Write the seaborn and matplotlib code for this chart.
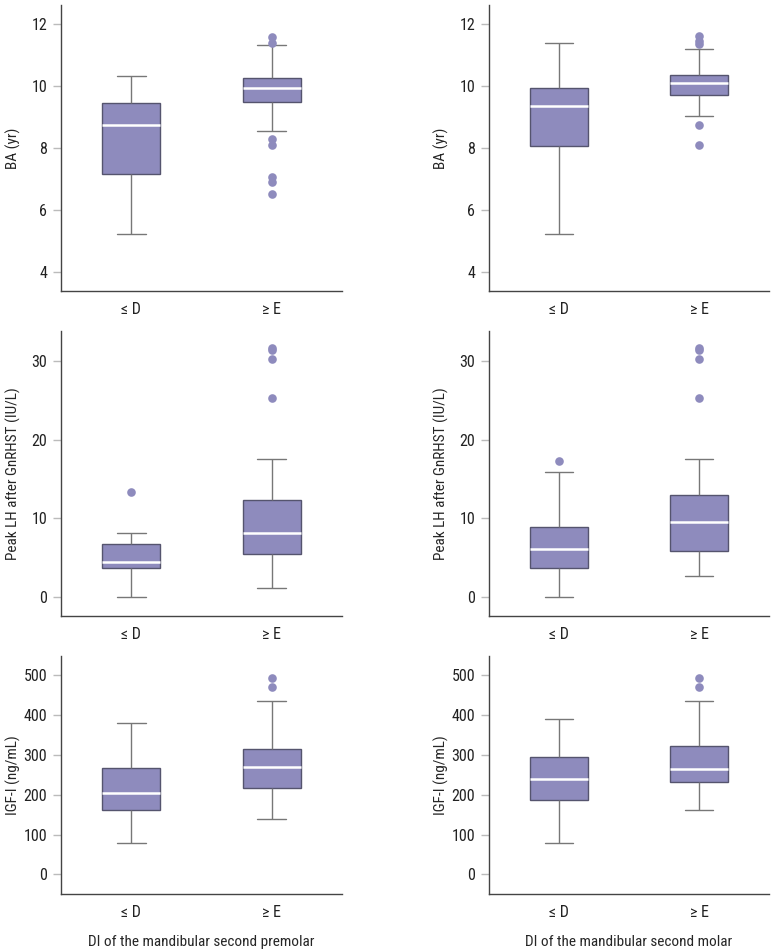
import pandas as pd
import matplotlib
matplotlib.use("Agg")
import matplotlib.pyplot as plt
import seaborn as sns

# Group labels on the x axis
groups = ["≤ D", "≥ E"]

# Box summaries: [lower whisker, Q1, median, Q3, upper whisker]
ba_premolar_d = [5.22, 7.16, 8.72, 9.43, 10.32]
ba_premolar_e = [8.55, 9.48, 9.91, 10.25, 11.32]
ba_premolar_out = [11.57, 11.36, 8.29, 8.08, 7.05, 6.89, 6.52]

ba_molar_d = [5.22, 8.04, 9.34, 9.94, 11.39]
ba_molar_e = [9.03, 9.71, 10.07, 10.34, 11.19]
ba_molar_out = [11.60, 11.44, 11.34, 8.72, 8.10]

lh_premolar_d = [0.04, 3.69, 4.45, 6.74, 8.14]
lh_premolar_d_out = [13.4]
lh_premolar_e = [1.14, 5.47, 8.14, 12.33, 17.6]
lh_premolar_e_out = [31.7, 31.36, 30.25, 25.3]

lh_molar_d = [0.0, 3.73, 6.14, 8.86, 15.9]
lh_molar_d_out = [17.25]
lh_molar_e = [2.71, 5.89, 9.58, 12.97, 17.58]
lh_molar_e_out = [31.7, 31.36, 30.25, 25.3]

igf_premolar_d = [77.8, 162.2, 204.8, 265.9, 381.0]
igf_premolar_e = [139.6, 215.7, 269.2, 313.5, 434.0]
igf_premolar_out = [491.6, 469.0]

igf_molar_d = [77.8, 185.6, 240.0, 293.5, 390.5]
igf_molar_e = [162.2, 232.4, 263.4, 321.0, 434.0]
igf_molar_out = [491.6, 469.0]

# Axis labels / ticks per row
row_ylabels = ["BA (yr)", "Peak LH after GnRHST (IU/L)", "IGF-I (ng/mL)"]
row_yticks = [[4, 6, 8, 10, 12], [0, 10, 20, 30], [0, 100, 200, 300, 400, 500]]
row_ylims = [(3.38, 12.6), (-2.4, 33.8), (-49, 548)]
col_xlabels = ["DI of the mandibular second premolar", "DI of the mandibular second molar"]

panels = [
    [(ba_premolar_d, ba_premolar_e, [], ba_premolar_out),
     (ba_molar_d, ba_molar_e, [], ba_molar_out)],
    [(lh_premolar_d, lh_premolar_e, lh_premolar_d_out, lh_premolar_e_out),
     (lh_molar_d, lh_molar_e, lh_molar_d_out, lh_molar_e_out)],
    [(igf_premolar_d, igf_premolar_e, [], igf_premolar_out),
     (igf_molar_d, igf_molar_e, [], igf_molar_out)],
]

sns.set_theme(style="ticks")
plt.rcParams["font.family"] = ["Roboto Condensed", "Liberation Sans Narrow", "Roboto", "DejaVu Sans"]
plt.rcParams["axes.edgecolor"] = "#444444"
plt.rcParams["ytick.color"] = "#bbbbbb"
plt.rcParams["ytick.labelcolor"] = "#222222"
plt.rcParams["xtick.labelcolor"] = "#222222"

box_color = "#8e8bbd"
W, H = 774, 950
fig = plt.figure(figsize=(W / 100, H / 100), dpi=100)

# pixel boxes of the axes: (left, right, top, bottom)
col_px = [(61, 342), (489, 769)]
row_px = [(5, 291), (331, 616), (656, 894)]

for r in range(3):
    for c in range(2):
        lft, rgt = col_px[c]
        top, bot = row_px[r]
        ax = fig.add_axes([lft / W, (H - bot) / H, (rgt - lft) / W, (bot - top) / H])
        d_vals, e_vals, d_out, e_out = panels[r][c]

        box_df = pd.DataFrame({
            "group": [groups[0]] * len(d_vals) + [groups[1]] * len(e_vals),
            "value": d_vals + e_vals,
        })
        out_df = pd.DataFrame({
            "group": [groups[0]] * len(d_out) + [groups[1]] * len(e_out),
            "value": d_out + e_out,
        })

        sns.boxplot(data=box_df, x="group", y="value", order=groups, ax=ax,
                    color=box_color, saturation=1, width=0.41, whis=(0, 100),
                    fliersize=0,
                    boxprops=dict(edgecolor="#55546e", linewidth=1.0),
                    medianprops=dict(color="white", linewidth=1.8),
                    whiskerprops=dict(color="#777777", linewidth=1.0),
                    capprops=dict(color="#777777", linewidth=1.0))
        if len(out_df):
            sns.stripplot(data=out_df, x="group", y="value", order=groups, ax=ax,
                          jitter=False, color=box_color, size=6.2, linewidth=0)

        ax.set_xlim(-0.5, 1.5)
        ax.set_ylim(*row_ylims[r])
        ax.set_yticks(row_yticks[r])
        ax.tick_params(axis="y", length=6, width=1, pad=4, labelsize=11.5)
        ax.tick_params(axis="x", length=0, pad=8, labelsize=11.5)
        sns.despine(ax=ax)
        for s in ["left", "bottom"]:
            ax.spines[s].set_linewidth(1.0)
        ax.set_ylabel(row_ylabels[r], fontsize=11, va="center")
        ax.yaxis.set_label_coords(-48 / (rgt - lft), 0.5)
        if r == 2:
            ax.set_xlabel(col_xlabels[c], fontsize=11)
            ax.xaxis.set_label_coords(0.5, -(935 - bot) / (bot - top))
        else:
            ax.set_xlabel("")

fig.savefig("out.png", dpi=100)
